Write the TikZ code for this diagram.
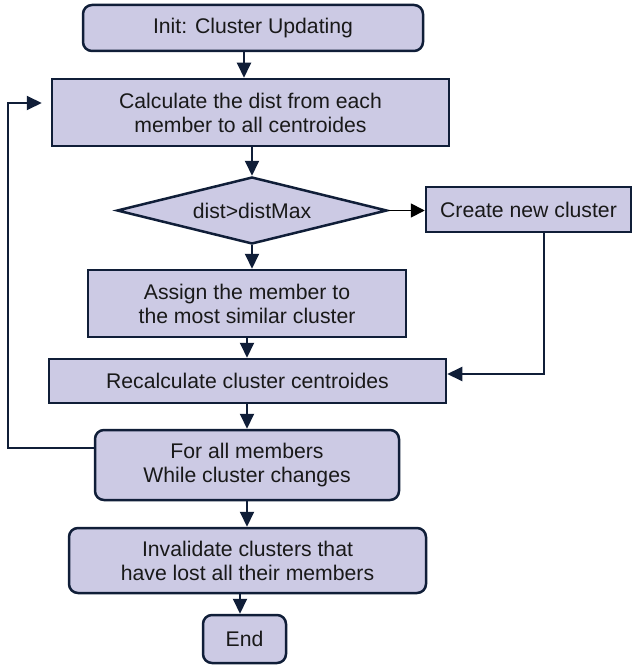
\documentclass[tikz,border=0pt]{standalone}
\usepackage{fontspec}
\setmainfont{Liberation Sans}
\usetikzlibrary{shapes.geometric,arrows.meta}
\definecolor{boxfill}{RGB}{204,202,228}
\definecolor{boxline}{RGB}{16,30,56}
\begin{document}
\begin{tikzpicture}[x=1pt,y=-1pt,
  box/.style={draw=boxline, line width=2.5pt, fill=boxfill, align=center, inner sep=0pt,
    font=\fontsize{21.2}{24}\selectfont, text=black!90},
  rbox/.style={box, rounded corners=9pt},
  arr/.style={draw=boxline, line width=2pt, -{Triangle[length=15pt,width=14pt]}},
  blackarr/.style={draw=black, line width=1.8pt, -{Triangle[length=14pt,width=14pt]}}]
\useasboundingbox (0,0) rectangle (634,666);
\fill[white] (0,0) rectangle (634,666);

\node[rbox, minimum width=340pt, minimum height=46pt] (init) at (253,28) {Init: Cluster Updating};
\node[box, minimum width=397pt, minimum height=67pt] (calc) at (250.5,112.5) {Calculate the dist from each\\member to all centroides};
\node[box, diamond, aspect=4, minimum width=270pt, minimum height=67pt] (dia) at (252,210.5) {dist>distMax};
\node[box, minimum width=205pt, minimum height=45pt] (create) at (528.5,209.5) {Create new cluster};
\node[box, minimum width=318pt, minimum height=67pt] (assign) at (247,303.5) {Assign the member to\\the most similar cluster};
\node[box, minimum width=397pt, minimum height=44pt] (recalc) at (247.5,381) {Recalculate cluster centroides};
\node[rbox, minimum width=304pt, minimum height=70pt] (forall) at (247,465) {For all members\\While cluster changes};
\node[rbox, minimum width=357pt, minimum height=65pt] (inval) at (247.5,560.5) {Invalidate clusters that\\have lost all their members};
\node[rbox, minimum width=83pt, minimum height=48pt] (end) at (244.5,639) {End};

\coordinate (xa) at (244,0);
\coordinate (xc) at (247,0);
\coordinate (xd) at (240,0);
\coordinate (xe) at (544,0);
\coordinate (ye) at (0,374);
\coordinate (fb1) at (8,448);
\coordinate (fb2) at (8,103);

\draw[arr] (init.south -| xa) -- (calc.north -| xa);
\draw[arr] (calc.south -| dia.north) -- (dia.north);
\draw[blackarr] (dia.east) -- (dia.east -| create.west);
\draw[arr] (dia.south) -- (assign.north -| dia.south);
\draw[arr] (assign.south -| xc) -- (recalc.north -| xc);
\draw[arr] (create.south -| xe) |- (recalc.east |- ye);
\draw[arr] (recalc.south -| xc) -- (forall.north -| xc);
\draw[arr, shorten >=9pt] (forall.west |- fb1) -- (fb1) -- (fb2) -- (calc.west |- fb2);
\draw[arr] (forall.south -| xc) -- (inval.north -| xc);
\draw[arr] (inval.south -| xd) -- (end.north -| xd);
\end{tikzpicture}
\end{document}
